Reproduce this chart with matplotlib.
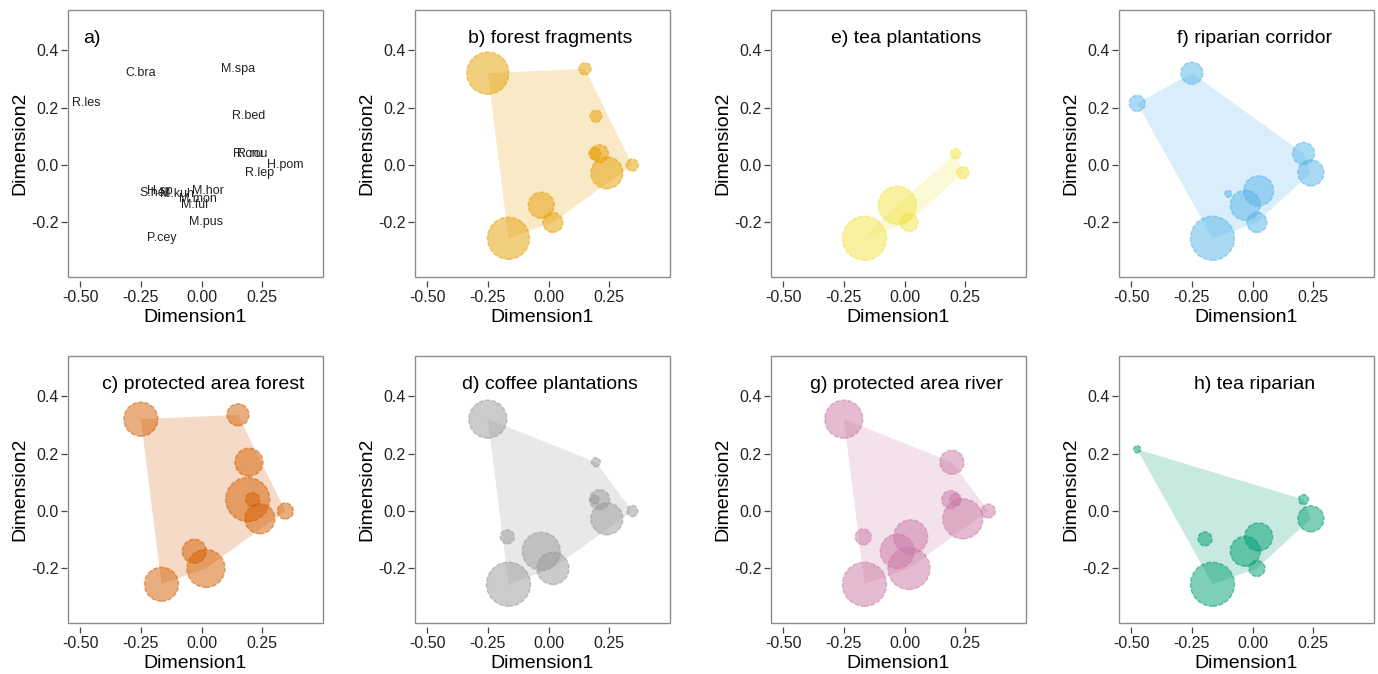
"""NMDS species ordination with habitat-specific abundance circles."""

import matplotlib

matplotlib.use("Agg")
import matplotlib.pyplot as plt
from matplotlib.patches import Polygon, Rectangle
import numpy as np

plt.rcParams["font.family"] = ["Liberation Sans", "DejaVu Sans"]

# species scores on the two NMDS dimensions
species = ["C.bra", "M.spa", "R.les", "R.bed", "R.cru", "R.rou", "H.pom", "R.lep",
           "S.hel", "H.sp", "M.kuh", "M.hor", "M.mon", "M.ful", "M.pus", "P.cey"]
dim1 = [-0.25, 0.15, -0.475, 0.195, 0.19, 0.21, 0.345, 0.24,
        -0.196, -0.17, -0.10, 0.025, -0.015, -0.03, 0.018, -0.165]
dim2 = [0.32, 0.335, 0.215, 0.17, 0.04, 0.04, 0.0, -0.027,
        -0.097, -0.09, -0.10, -0.09, -0.12, -0.14, -0.20, -0.255]

# circle radius (px) per species in each habitat, 0 = absent
size_b = [21, 6, 0, 6, 6, 9, 6, 16, 0, 0, 0, 0, 0, 13, 10, 21]
size_c = [17, 11, 0, 14, 22, 7, 8, 15, 0, 0, 0, 0, 0, 12, 19, 17]
size_d = [19, 0, 0, 4.5, 4.5, 10, 5.5, 16, 0, 7, 0, 0, 0, 19, 16, 22]
size_e = [0, 0, 0, 0, 0, 5, 0, 6, 0, 0, 0, 0, 0, 19, 9, 22]
size_f = [11, 0, 8, 0, 0, 11, 0, 13, 0, 0, 3.5, 15, 0, 15, 10, 22]
size_g = [19, 0, 0, 12, 9, 6, 7, 20, 0, 8, 0, 17, 0, 17, 21, 22]
size_h = [0, 0, 3.5, 0, 0, 5, 0, 13, 7, 0, 0, 14, 0, 15, 8, 22]

titles = ["b) forest fragments", "e) tea plantations", "f) riparian corridor",
          "c) protected area forest", "d) coffee plantations",
          "g) protected area river", "h) tea riparian"]
colors = ["#E69F00", "#F0E442", "#56B4E9", "#D55E00", "#999999", "#CC79A7", "#009E73"]
sizes = [size_b, size_e, size_f, size_c, size_d, size_g, size_h]

xticks = [-0.5, -0.25, 0.0, 0.25]
yticks = [-0.2, 0.0, 0.2, 0.4]

DPI = 100
W, H = 1378, 674
COL_LEFT = [68, 415, 771, 1119]
ROW_TOP = [10, 356]
AX_W, AX_H = 255, 267
FRAME = "#8c8c8c"


def convex_hull(points):
    pts = sorted(set(points))
    if len(pts) < 3:
        return pts

    def cross(o, a, b):
        return (a[0] - o[0]) * (b[1] - o[1]) - (a[1] - o[1]) * (b[0] - o[0])

    lower, upper = [], []
    for p in pts:
        while len(lower) >= 2 and cross(lower[-2], lower[-1], p) <= 0:
            lower.pop()
        lower.append(p)
    for p in reversed(pts):
        while len(upper) >= 2 and cross(upper[-2], upper[-1], p) <= 0:
            upper.pop()
        upper.append(p)
    return lower[:-1] + upper[:-1]


def style_axes(ax):
    ax.set_xlim(-0.55, 0.50)
    ax.set_ylim(-0.39, 0.54)
    ax.set_xticks(xticks)
    ax.set_xticklabels([f"{v:.2f}" for v in xticks])
    ax.set_yticks(yticks)
    ax.set_yticklabels([f"{v:.1f}" for v in yticks])
    for side in ["top", "right", "bottom", "left"]:
        ax.spines[side].set_color("none")
    ax.spines["bottom"].set_position(("outward", 3))
    ax.spines["left"].set_position(("outward", 1))
    ax.add_patch(Rectangle((0, 0), 1, 1, transform=ax.transAxes, fill=False,
                           edgecolor=FRAME, linewidth=1.0, clip_on=False, zorder=5))
    ax.tick_params(direction="out", length=4, width=0.9, color="#444444",
                   labelsize=11.5, labelcolor="#222222", pad=2)
    ax.set_xlabel("Dimension1", fontsize=14, labelpad=3)
    ax.set_ylabel("Dimension2", fontsize=14, labelpad=2)


def add_axes(fig, row, col):
    left = COL_LEFT[col] / W
    bottom = 1 - (ROW_TOP[row] + AX_H) / H
    return fig.add_axes([left, bottom, AX_W / W, AX_H / H])


def main():
    fig = plt.figure(figsize=(W / DPI, H / DPI), dpi=DPI)

    # panel a: species labels
    ax = add_axes(fig, 0, 0)
    style_axes(ax)
    for name, x, y in zip(species, dim1, dim2):
        ax.text(x, y, name, fontsize=9, ha="center", va="center", color="#222222")
    ax.text(0.06, 0.895, "a)", transform=ax.transAxes, fontsize=14,
            ha="left", va="center")

    slots = [(0, 1), (0, 2), (0, 3), (1, 0), (1, 1), (1, 2), (1, 3)]
    for (row, col), title, color, radii in zip(slots, titles, colors, sizes):
        ax = add_axes(fig, row, col)
        style_axes(ax)
        present = [i for i, r in enumerate(radii) if r > 0]
        hull = convex_hull([(dim1[i], dim2[i]) for i in present])
        ax.add_patch(Polygon(hull, closed=True, facecolor=color, alpha=0.22,
                             edgecolor="none", zorder=1))
        xs = np.array([dim1[i] for i in present])
        ys = np.array([dim2[i] for i in present])
        rs = np.array([radii[i] for i in present], dtype=float)
        s = (2 * rs * 72 / DPI) ** 2
        order = np.argsort(-rs)
        ax.scatter(xs[order], ys[order], s=s[order], facecolor=color, alpha=0.5,
                   edgecolor=color, linewidth=1.1, linestyle=(0, (3, 1.2)), zorder=2)
        ax.text(0.53, 0.895, title, transform=ax.transAxes, fontsize=14,
                ha="center", va="center")

    fig.savefig("out.png", dpi=DPI)
    plt.close(fig)


if __name__ == "__main__":
    main()
